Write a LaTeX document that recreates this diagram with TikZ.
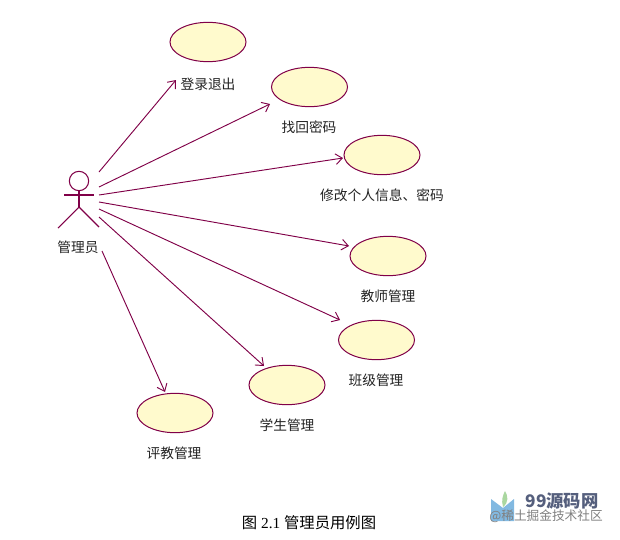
\documentclass[tikz,border=0pt]{standalone}
\usepackage{fontspec}
\setmainfont{Liberation Serif}
\newfontfamily\cjk{Noto Sans CJK SC}
\usetikzlibrary{arrows.meta,shapes.geometric}
\definecolor{umlline}{RGB}{128,0,72}
\definecolor{umlfill}{RGB}{255,250,205}
\definecolor{labelink}{RGB}{35,35,35}
\definecolor{wmdark}{RGB}{85,95,125}
\definecolor{wmbook}{RGB}{130,185,225}
\definecolor{wmleaf}{RGB}{170,215,160}
\tikzset{
 usecase/.style={ellipse,draw=umlline,fill=umlfill,line width=0.75pt,minimum width=57pt,minimum height=29.5pt,inner sep=0pt},
 lbl/.style={font=\cjk\fontsize{10.3pt}{12pt}\selectfont,text=labelink,inner sep=0pt},
 assoc/.style={draw=umlline,line width=0.7pt,-{Straight Barb[length=5pt,width=8pt,line width=0.7pt]}},
 actorline/.style={draw=umlline,line width=0.8pt},
 wm/.style={inner sep=0pt}
}
\begin{document}
\begin{tikzpicture}[x=0.75pt,y=-0.75pt]
\useasboundingbox (0,0) rectangle (620,539);
\fill[white] (0,0) rectangle (620,539);
% use cases
\node[usecase] (u1) at (208,42) {};
\node[usecase] (u2) at (309.5,87) {};
\node[usecase] (u3) at (382,155) {};
\node[usecase] (u4) at (388,256) {};
\node[usecase] (u5) at (376.5,340) {};
\node[usecase] (u6) at (287,385) {};
\node[usecase] (u7) at (175,413) {};
% labels
\node[lbl] (l1) at (208,84) {登录退出};
\node[lbl] (l2) at (309,127) {找回密码};
\node[lbl] (l3) at (382,195) {修改个人信息、密码};
\node[lbl] (l4) at (388,296) {教师管理};
\node[lbl] (l5) at (376,380) {班级管理};
\node[lbl] (l6) at (287,425) {学生管理};
\node[lbl] (l7) at (174,453) {评教管理};
\node[lbl] (l0) at (78,247) {管理员};
% actor
\node[circle,actorline,minimum size=14.5pt,inner sep=0pt] (head) at (79,181) {};
\coordinate (hip) at (79,207);
\coordinate (armL) at (64,195);
\coordinate (armR) at (94,195);
\coordinate (legL) at (58,228);
\coordinate (legR) at (99,227);
\draw[actorline] (head.south) -- (hip);
\draw[actorline] (armL) -- (armR);
\draw[actorline] (legL) -- (hip) -- (legR);
% connector ends
\coordinate (a1) at (99,172);\coordinate (b1) at (176,80);
\coordinate (a2) at (99,187);\coordinate (b2) at (270,104);
\coordinate (a3) at (99,195);\coordinate (b3) at (343,158);
\coordinate (a4) at (99,202);\coordinate (b4) at (349,246);
\coordinate (a5) at (99,209);\coordinate (b5) at (340,320);
\coordinate (a6) at (99,217);\coordinate (b6) at (264,366);
\coordinate (a7) at (102,251);\coordinate (b7) at (165,392);
\foreach \i in {1,...,7} {\draw[assoc] (a\i) -- (b\i);}
% caption
\node[inner sep=0pt,text=black] (cap) at (309,523) {\fontsize{11.5pt}{14pt}\selectfont{\cjk 图} 2.1 {\cjk 管理员用例图}};
% watermark
\fill[wmleaf] (503,507) .. controls (501,500) and (503,495) .. (505,491) .. controls (508,496) and (509,502) .. (503,507);
\fill[wmbook] (491,499) -- (503,508) -- (514,499) -- (514,521) -- (503,521) -- (491,521) -- cycle;
\node[wm,text=wmdark,font=\fontsize{13pt}{14pt}\selectfont\cjk\bfseries] (w1) at (562,501) {99源码网};
\node[wm,text=gray,font=\fontsize{9.5pt}{11pt}\selectfont\cjk] (w2) at (546,516) {@稀土掘金技术社区};
\end{tikzpicture}
\end{document}
